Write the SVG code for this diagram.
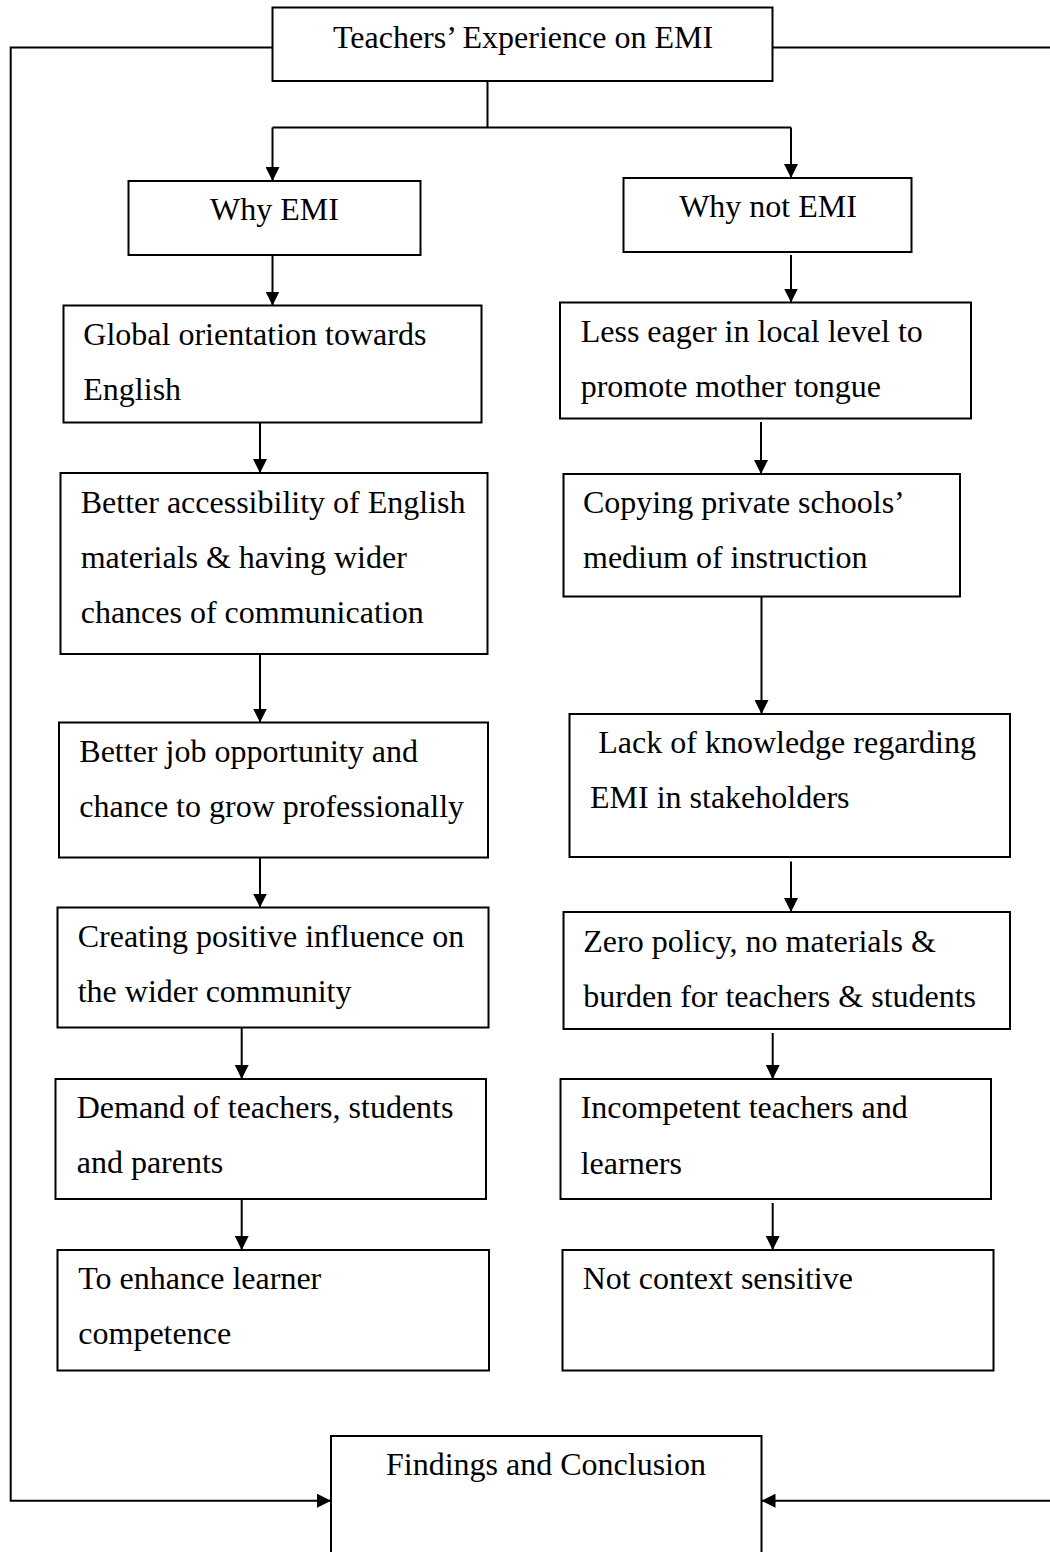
<svg xmlns="http://www.w3.org/2000/svg" width="1050" height="1552" viewBox="0 0 1050 1552">
<style>
.box{fill:#fff;stroke:#000;stroke-width:2}
.t{font-family:"Liberation Serif","Times New Roman",serif;font-size:32px;fill:#000}
.c{text-anchor:middle}
.ln{fill:none;stroke:#000;stroke-width:2}
</style>
<defs>
<marker id="ah" markerUnits="userSpaceOnUse" markerWidth="14" markerHeight="14" refX="14" refY="7" orient="auto">
<path d="M0,0 L14,7 L0,14 z" fill="#000"/>
</marker>
</defs>
<rect width="1050" height="1552" fill="#fff"/>
<g id="connectors">
<path class="ln" d="M272.5,47.5 H10.7 V1500.7 H331" marker-end="url(#ah)"/>
<path class="ln" d="M772.5,47.5 H1050"/>
<path class="ln" d="M1050,1500.7 H761.5" marker-end="url(#ah)"/>
<path class="ln" d="M487.5,81 V127.5 M272.5,127.5 H791"/>
<path class="ln" d="M272.5,127.5 V181" marker-end="url(#ah)"/>
<path class="ln" d="M791,127.5 V178" marker-end="url(#ah)"/>
<path class="ln" d="M272.5,255 V305.5" marker-end="url(#ah)"/>
<path class="ln" d="M791,255 V302.5" marker-end="url(#ah)"/>
<path class="ln" d="M260,422.5 V473" marker-end="url(#ah)"/>
<path class="ln" d="M761,422 V474" marker-end="url(#ah)"/>
<path class="ln" d="M260,654 V722.5" marker-end="url(#ah)"/>
<path class="ln" d="M761.5,596.5 V714" marker-end="url(#ah)"/>
<path class="ln" d="M260,857.5 V907.5" marker-end="url(#ah)"/>
<path class="ln" d="M791,861.5 V912" marker-end="url(#ah)"/>
<path class="ln" d="M241.7,1027.5 V1079" marker-end="url(#ah)"/>
<path class="ln" d="M772.7,1033 V1079" marker-end="url(#ah)"/>
<path class="ln" d="M241.7,1199 V1250" marker-end="url(#ah)"/>
<path class="ln" d="M772.7,1203 V1250" marker-end="url(#ah)"/>
</g>
<g id="top"><rect class="box" x="272.5" y="7.5" width="500" height="73.5"/><text class="t c" x="523" y="48">Teachers’ Experience on EMI</text></g>
<g id="whyEMI"><rect class="box" x="128.5" y="181" width="292" height="74"/><text class="t c" x="274.5" y="220">Why EMI</text></g>
<g id="whyNotEMI"><rect class="box" x="623.5" y="178" width="288" height="74"/><text class="t c" x="768" y="217">Why not EMI</text></g>
<g id="global"><rect class="box" x="63.5" y="305.5" width="418" height="117"/><text class="t" x="83.3" y="345">Global orientation towards</text><text class="t" x="83.3" y="400">English</text></g>
<g id="access"><rect class="box" x="60.5" y="473" width="427" height="181"/><text class="t" x="80.7" y="513">Better accessibility of English</text><text class="t" x="80.7" y="568">materials &amp; having wider</text><text class="t" x="80.7" y="623">chances of communication</text></g>
<g id="job"><rect class="box" x="59" y="722.5" width="429" height="135"/><text class="t" x="79.3" y="761.7">Better job opportunity and</text><text class="t" x="79.3" y="816.7">chance to grow professionally</text></g>
<g id="influence"><rect class="box" x="57.5" y="907.5" width="431" height="120"/><text class="t" x="77.7" y="946.7">Creating positive influence on</text><text class="t" x="77.7" y="1001.7">the wider community</text></g>
<g id="demand"><rect class="box" x="55.5" y="1079" width="430.5" height="120"/><text class="t" x="76.7" y="1118.3">Demand of teachers, students</text><text class="t" x="76.7" y="1173.3">and parents</text></g>
<g id="enhance"><rect class="box" x="57.5" y="1250" width="431.5" height="120.5"/><text class="t" x="78.3" y="1289.3">To enhance learner</text><text class="t" x="78.3" y="1344.3">competence</text></g>
<g id="lessEager"><rect class="box" x="560" y="302.5" width="411" height="116"/><text class="t" x="580.7" y="341.7">Less eager in local level to</text><text class="t" x="580.7" y="396.7">promote mother tongue</text></g>
<g id="copying"><rect class="box" x="563.5" y="474" width="396.5" height="122.5"/><text class="t" x="583" y="513">Copying private schools’</text><text class="t" x="583" y="568">medium of instruction</text></g>
<g id="lack"><rect class="box" x="569.5" y="714" width="440.5" height="143"/><text class="t" x="598.3" y="753.3">Lack of knowledge regarding</text><text class="t" x="590" y="808.3">EMI in stakeholders</text></g>
<g id="zero"><rect class="box" x="563.5" y="912" width="446.5" height="117"/><text class="t" x="583.3" y="951.7">Zero policy, no materials &amp;</text><text class="t" x="583.3" y="1006.7">burden for teachers &amp; students</text></g>
<g id="incompetent"><rect class="box" x="560.5" y="1079" width="430.5" height="120"/><text class="t" x="580.7" y="1118.3">Incompetent teachers and</text><text class="t" x="580.7" y="1174">learners</text></g>
<g id="notContext"><rect class="box" x="562.5" y="1250" width="431" height="120.5"/><text class="t" x="582.7" y="1289.3">Not context sensitive</text></g>
<g id="findings"><rect class="box" x="331" y="1436" width="430.5" height="130"/><text class="t c" x="546" y="1475">Findings and Conclusion</text></g>
</svg>
